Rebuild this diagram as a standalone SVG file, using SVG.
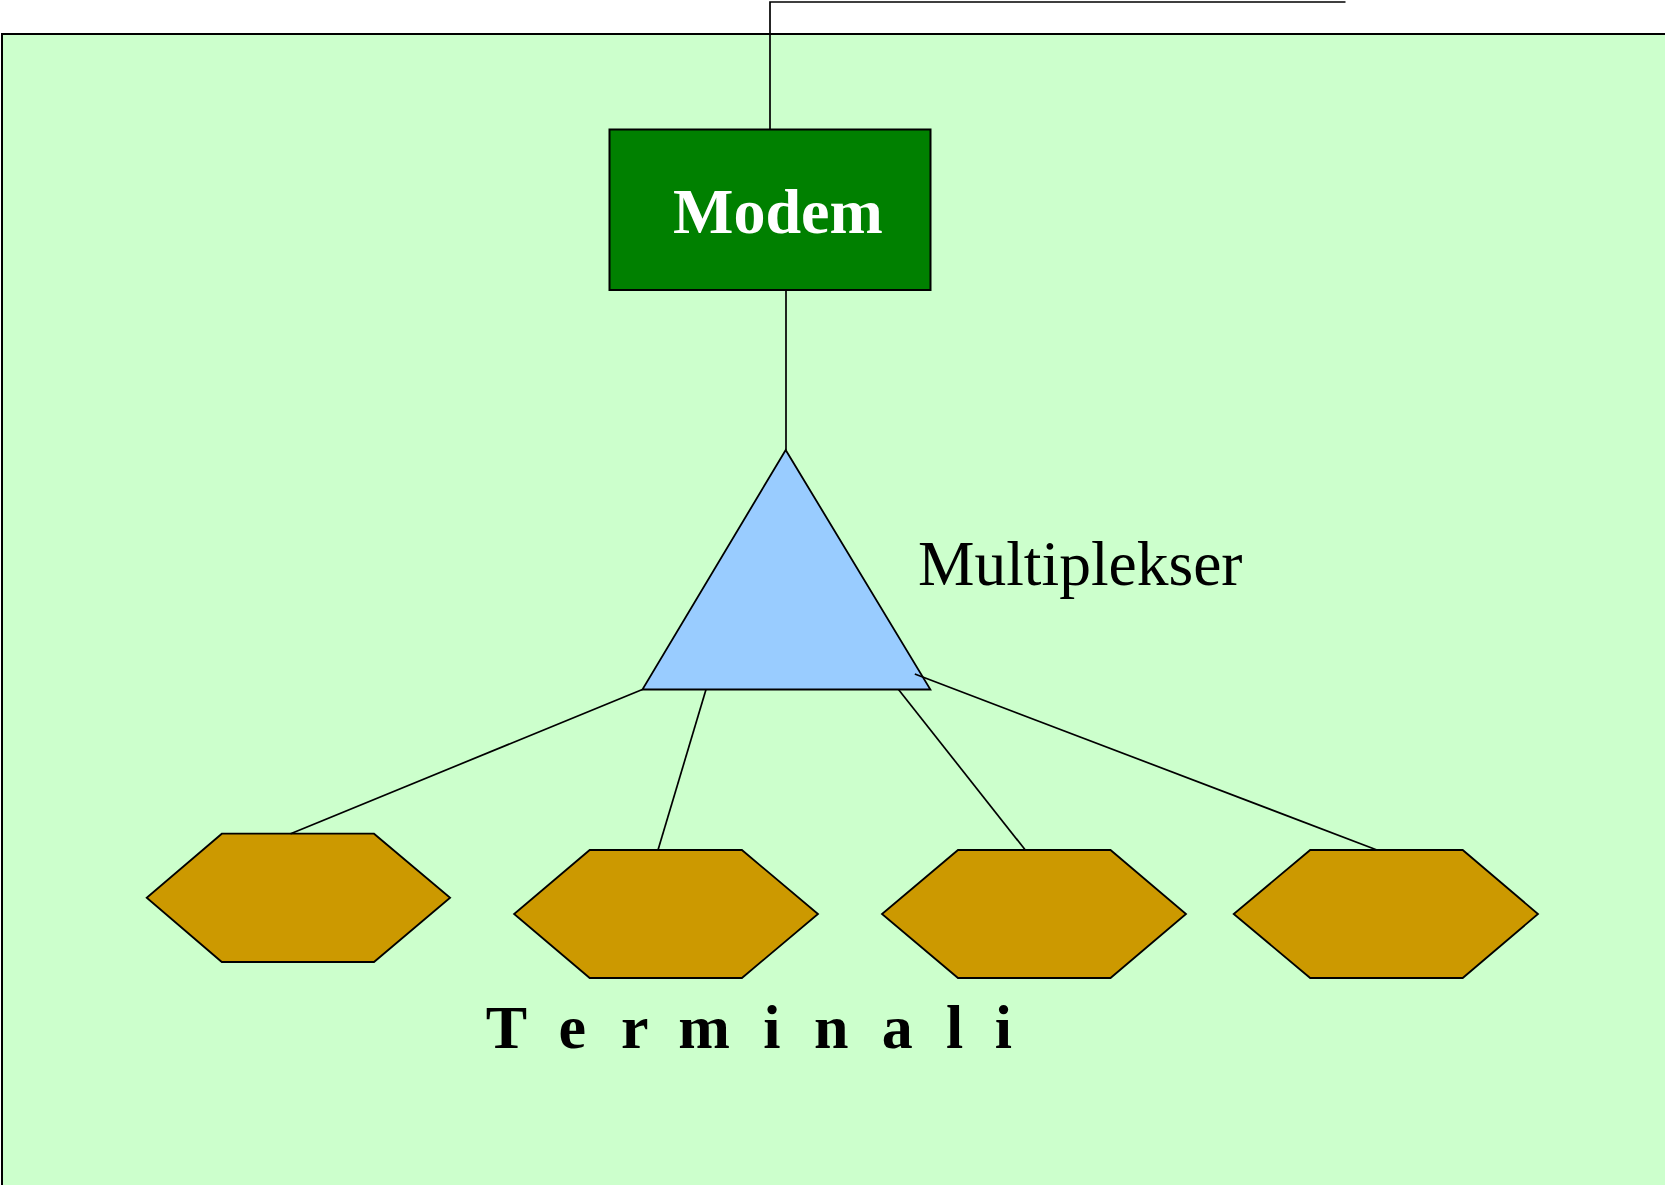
<svg xmlns="http://www.w3.org/2000/svg" width="1665" height="1185" viewBox="0 0 1665 1185">
<style>
.bg{fill:#CCFFCC;stroke:#000;stroke-width:2}
.modem{fill:#008000;stroke:#000;stroke-width:2}
.mux{fill:#99CCFF;stroke:#000;stroke-width:1.8}
.term{fill:#CC9900;stroke:#000;stroke-width:1.8}
.conn{stroke:#000;stroke-width:1.7;fill:none}
.serif{font-family:"Liberation Serif","Times New Roman",serif}
</style>
<rect width="1665" height="1185" fill="#fff"/>
<rect class="bg" x="2" y="34" width="1700" height="1200"/>
<g id="modem">
<rect class="modem" x="609.5" y="129.5" width="321" height="160.5"/>
<text class="serif" x="673" y="233" font-size="64" font-weight="bold" fill="#fff">Modem</text>
</g>
<g id="multiplekser">
<polygon class="mux" points="785.7,450 930.4,689.5 642.4,689.5"/>
<text class="serif" x="918" y="585" font-size="63.5" fill="#000">Multiplekser</text>
</g>
<g id="terminal1">
<polygon class="term" points="221.8,833.7 374,833.7 450.1,897.8 374,962 221.8,962 146.7,897.8"/>
</g>
<g id="terminal2">
<polygon class="term" points="589.7,850 741.9,850 818,914 741.9,978 589.7,978 514.1,914"/>
</g>
<g id="terminal3">
<polygon class="term" points="958,850 1110.5,850 1186,914 1110.5,978 958,978 882,914"/>
</g>
<g id="terminal4">
<polygon class="term" points="1310.2,850 1462.7,850 1538,914 1462.7,978 1310.2,978 1233.7,914"/>
</g>
<g id="label-terminali">
<text class="serif" font-size="62" font-weight="bold" fill="#000" y="1048" x="485.7 530 558.5 600 620.9 660 678.3 740 763.3 800 814 860 881.8 930 946 980 994.7">T e r m i n a l i</text>
</g>
<g id="connectors">
<polyline class="conn" points="1345.5,2 770,2 770,129.5"/>
<line class="conn" x1="786" y1="290" x2="786" y2="450"/>
<line class="conn" x1="642.4" y1="689.5" x2="290.6" y2="833.7"/>
<line class="conn" x1="706" y1="689.5" x2="658" y2="850"/>
<line class="conn" x1="898.5" y1="689.5" x2="1025.3" y2="850"/>
<line class="conn" x1="914.8" y1="674" x2="1377" y2="850"/>
</g>
</svg>
